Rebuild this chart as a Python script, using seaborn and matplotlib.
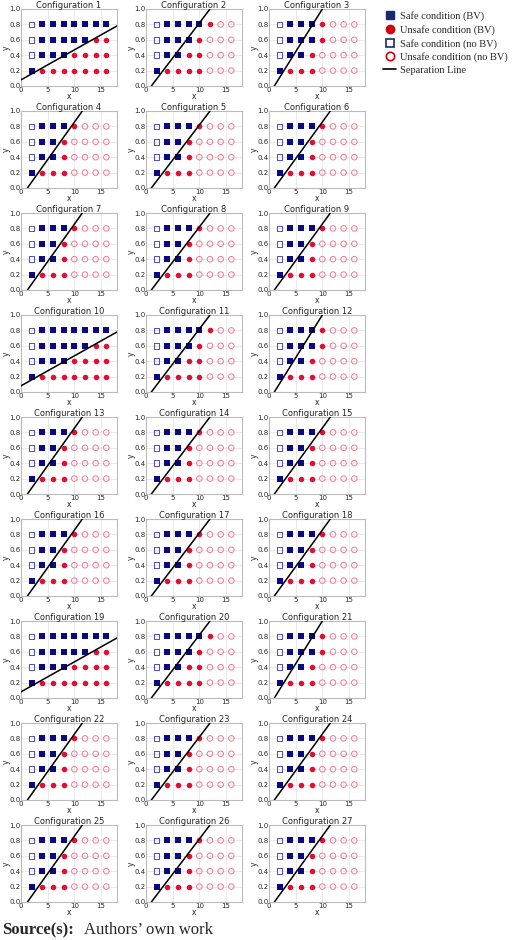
import numpy as np
import pandas as pd
import matplotlib
matplotlib.use("Agg")
import matplotlib.pyplot as plt
import seaborn as sns
from matplotlib.lines import Line2D

X_VALUES = [2, 4, 6, 8, 10, 12, 14, 16]
Y_VALUES = [0.2, 0.4, 0.6, 0.8]

# per x column, the class of points at y = 0.2, 0.4, 0.6, 0.8
# S safe (BV), U unsafe (BV), s safe (no BV), u unsafe (no BV)
PATTERN_1 = ["Ssss", "USSS", "USSS", "USSS", "UUSS", "UUSS", "UUUS", "UUUS"]
PATTERN_2 = ["Ssss", "USSS", "USSS", "UUSS", "UUUS", "uuuU", "uuuu", "uuuu"]
PATTERN_3 = ["Ssss", "USSS", "USSS", "UUSS", "uuUU", "uuuu", "uuuu", "uuuu"]
PATTERN_4 = ["Ssss", "USSS", "USSS", "UUUS", "uuuU", "uuuu", "uuuu", "uuuu"]

BASE_PATTERNS = [PATTERN_1, PATTERN_2, PATTERN_3, PATTERN_4, PATTERN_4,
                 PATTERN_4, PATTERN_4, PATTERN_4, PATTERN_4]
# separation lines as two end points (x0, y0, x1, y1)
BASE_LINES = [(0, 0.08, 18, 0.78), (1, 0, 12, 1), (1, 0, 10, 1),
              (1.2, 0, 11.5, 1), (1, 0, 12, 1), (1, 0, 11.5, 1),
              (1.2, 0, 11.5, 1), (1, 0, 12, 1), (1, 0, 11.5, 1)]

STYLES = {
    "S": dict(marker="s", color="#0a0a80", fill=True),
    "U": dict(marker="o", color="#e01035", fill=True),
    "s": dict(marker="s", color="#4a4ad0", fill=False),
    "u": dict(marker="o", color="#f07a90", fill=False),
}

sns.set_style("whitegrid")
plt.rcParams["font.family"] = ["DejaVu Sans"]

fig = plt.figure(figsize=(5.2, 9.4), dpi=100)
W, H = 520, 940
lefts = [21, 146, 269]
aw, ah = 96, 77

for n in range(27):
    r, c = divmod(n, 3)
    pattern = BASE_PATTERNS[n % 9]
    line = BASE_LINES[n % 9]
    top = 9 + r * 102
    ax = fig.add_axes([lefts[c] / W, 1 - (top + ah) / H, aw / W, ah / H])
    rows = []
    for xi, col in zip(X_VALUES, pattern):
        for yi, k in zip(Y_VALUES, col):
            rows.append((xi, yi, k))
    df = pd.DataFrame(rows, columns=["x", "y", "k"])
    ax.plot([line[0], line[2]], [line[1], line[3]], color="black", lw=1.1, zorder=3)
    for k, st in STYLES.items():
        sub = df[df.k == k]
        if sub.empty:
            continue
        if st["fill"]:
            sns.scatterplot(data=sub, x="x", y="y", ax=ax, marker=st["marker"],
                            color=st["color"], s=16, linewidth=0, zorder=2)
        else:
            sns.scatterplot(data=sub, x="x", y="y", ax=ax, marker=st["marker"],
                            facecolor="none", edgecolor=st["color"], s=16,
                            linewidth=0.7, zorder=2)
    ax.set_xlim(0, 18)
    ax.set_ylim(0, 1)
    ax.set_xticks([0, 5, 10, 15])
    ax.set_yticks([0, 0.2, 0.4, 0.6, 0.8, 1.0])
    ax.set_yticklabels(["0.0", "0.2", "0.4", "0.6", "0.8", "1.0"])
    ax.tick_params(labelsize=5, pad=0.5, length=0)
    ax.set_xlabel("x", fontsize=5.5, labelpad=-0.5)
    ax.set_ylabel("y", fontsize=5.5, labelpad=-1)
    ax.set_title(f"Configuration {n + 1}", fontsize=6, pad=1)
    ax.grid(color="#e6e6e6", lw=0.6)
    for sp in ax.spines.values():
        sp.set_color("#bbbbbb")
        sp.set_linewidth(0.8)

handles = [
    Line2D([], [], marker="s", ls="", color="#1a2a6a", markersize=6),
    Line2D([], [], marker="o", ls="", color="#d00010", markersize=6),
    Line2D([], [], marker="s", ls="", markerfacecolor="none", markeredgecolor="#1a2a6a", markersize=6, mew=1.2),
    Line2D([], [], marker="o", ls="", markerfacecolor="none", markeredgecolor="#d00010", markersize=6, mew=1.2),
    Line2D([], [], color="black", lw=1.2),
]
labels = ["Safe condition (BV)", "Unsafe condition (BV)", "Safe condition (no BV)",
          "Unsafe condition (no BV)", "Separation Line"]
fig.legend(handles, labels, loc="upper left", bbox_to_anchor=(374 / W, 1 - 2 / H),
           frameon=False, prop={"family": "Liberation Serif", "size": 7.5},
           handlelength=1.2, handletextpad=0.4, labelspacing=0.35)

fig.text(2 / W, 1 - 934 / H, "Source(s):", fontsize=12, fontweight="bold",
         family="Liberation Serif", va="baseline")
fig.text(84 / W, 1 - 934 / H, "Authors\u2019 own work", fontsize=12,
         family="Liberation Serif", va="baseline")

fig.savefig("out.png", dpi=100)
